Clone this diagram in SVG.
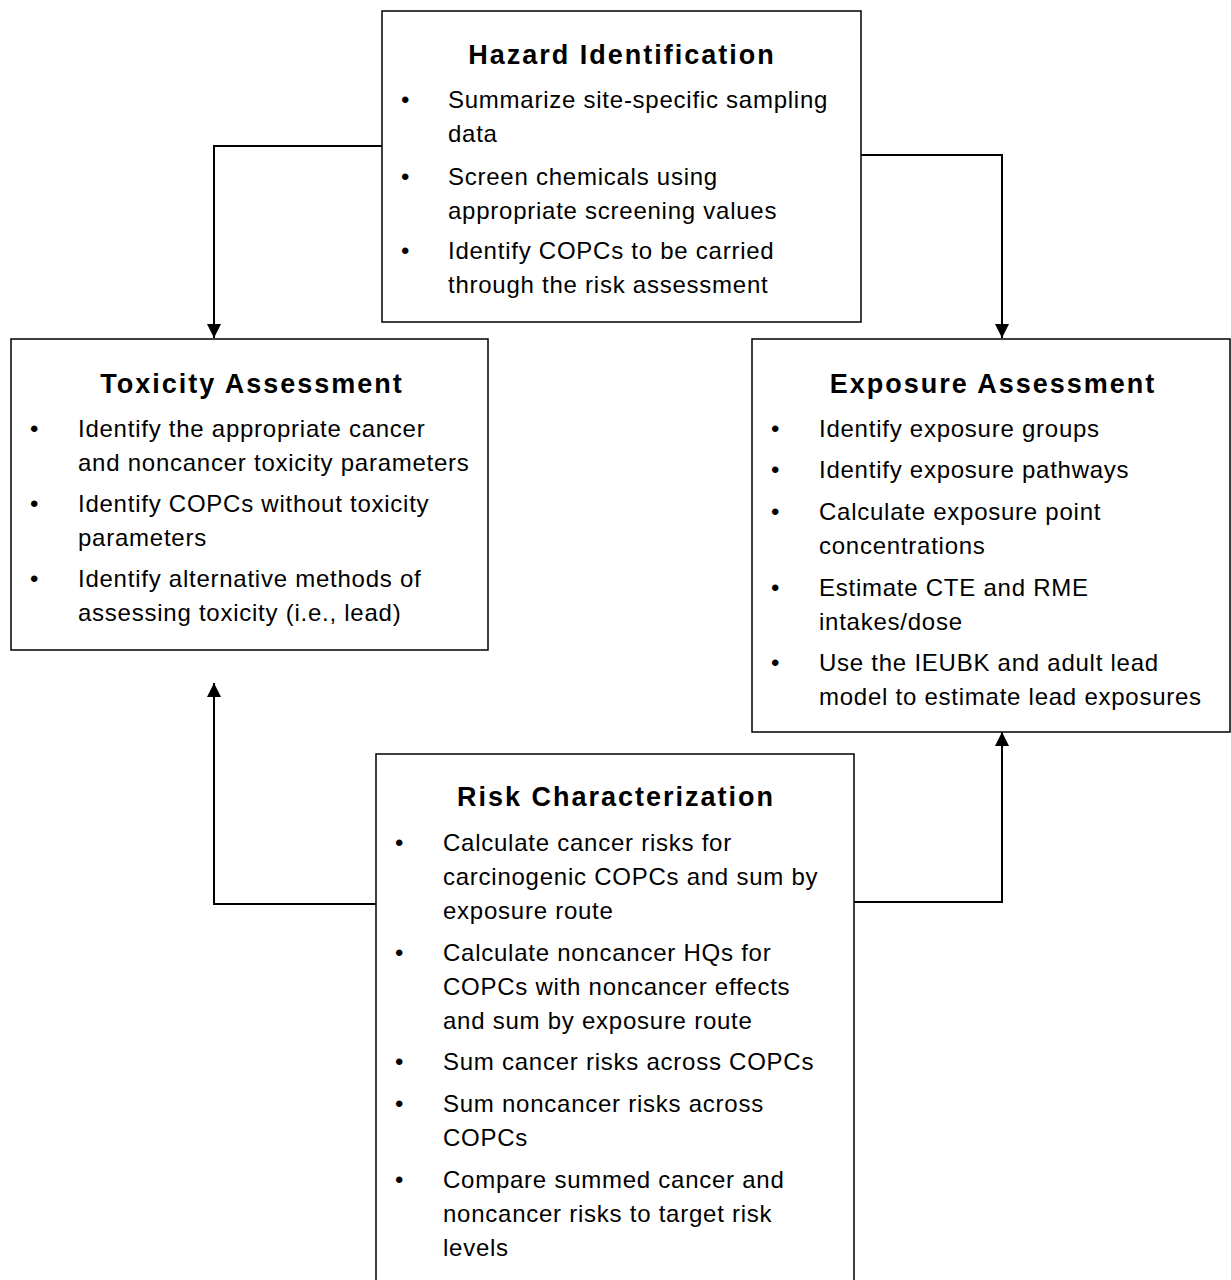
<svg xmlns="http://www.w3.org/2000/svg" width="1231" height="1280" viewBox="0 0 1231 1280">
<style>
.box{fill:#fff;stroke:#000;stroke-width:1.5}
.t{font-family:"Liberation Sans",Arial,sans-serif;font-size:27px;font-weight:bold;letter-spacing:2px;text-anchor:middle;fill:#000}
.b{font-family:"Liberation Sans",Arial,sans-serif;font-size:24px;letter-spacing:0.75px;fill:#000}
.c{fill:none;stroke:#000;stroke-width:2}
</style>
<defs>
<marker id="ah" viewBox="0 0 10 10" refX="10" refY="5" markerWidth="14" markerHeight="14" markerUnits="userSpaceOnUse" orient="auto">
<path d="M0,0 L10,5 L0,10 z" fill="#000"/>
</marker>
</defs>
<g id="connectors">
<polyline class="c" points="382,146 214,146 214,338" marker-end="url(#ah)"/>
<polyline class="c" points="861,155 1002,155 1002,338" marker-end="url(#ah)"/>
<polyline class="c" points="376,904 214,904 214,683" marker-end="url(#ah)"/>
<polyline class="c" points="854,902 1002,902 1002,732" marker-end="url(#ah)"/>
</g>
<g id="hazard">
<rect class="box" x="382" y="11" width="479" height="311"/>
<text class="t" x="622" y="64">Hazard Identification</text>
<text class="b" x="401" y="108">•</text><text class="b" x="448" y="108">Summarize site-specific sampling</text>
<text class="b" x="448" y="142">data</text>
<text class="b" x="401" y="185">•</text><text class="b" x="448" y="185">Screen chemicals using</text>
<text class="b" x="448" y="219">appropriate screening values</text>
<text class="b" x="401" y="259">•</text><text class="b" x="448" y="259">Identify COPCs to be carried</text>
<text class="b" x="448" y="293">through the risk assessment</text>
</g>
<g id="toxicity">
<rect class="box" x="11" y="339" width="477" height="311"/>
<text class="t" x="252" y="393">Toxicity Assessment</text>
<text class="b" x="30" y="437">•</text><text class="b" x="78" y="437">Identify the appropriate cancer</text>
<text class="b" x="78" y="471">and noncancer toxicity parameters</text>
<text class="b" x="30" y="512">•</text><text class="b" x="78" y="512">Identify COPCs without toxicity</text>
<text class="b" x="78" y="546">parameters</text>
<text class="b" x="30" y="587">•</text><text class="b" x="78" y="587">Identify alternative methods of</text>
<text class="b" x="78" y="621">assessing toxicity (i.e., lead)</text>
</g>
<g id="exposure">
<rect class="box" x="752" y="339" width="478" height="393"/>
<text class="t" x="993" y="393">Exposure Assessment</text>
<text class="b" x="771" y="437">•</text><text class="b" x="819" y="437">Identify exposure  groups</text>
<text class="b" x="771" y="478">•</text><text class="b" x="819" y="478">Identify exposure pathways</text>
<text class="b" x="771" y="520">•</text><text class="b" x="819" y="520">Calculate exposure point</text>
<text class="b" x="819" y="554">concentrations</text>
<text class="b" x="771" y="596">•</text><text class="b" x="819" y="596">Estimate CTE and RME</text>
<text class="b" x="819" y="630">intakes/dose</text>
<text class="b" x="771" y="671">•</text><text class="b" x="819" y="671">Use the IEUBK and adult lead</text>
<text class="b" x="819" y="705">model to estimate lead exposures</text>
</g>
<g id="risk">
<rect class="box" x="376" y="754" width="478" height="540"/>
<text class="t" x="616" y="806">Risk Characterization</text>
<text class="b" x="395" y="851">•</text><text class="b" x="443" y="851">Calculate cancer risks for</text>
<text class="b" x="443" y="885">carcinogenic COPCs and sum by</text>
<text class="b" x="443" y="919">exposure route</text>
<text class="b" x="395" y="961">•</text><text class="b" x="443" y="961">Calculate noncancer HQs for</text>
<text class="b" x="443" y="995">COPCs with noncancer effects</text>
<text class="b" x="443" y="1029">and sum by exposure route</text>
<text class="b" x="395" y="1070">•</text><text class="b" x="443" y="1070">Sum cancer risks across COPCs</text>
<text class="b" x="395" y="1112">•</text><text class="b" x="443" y="1112">Sum noncancer risks across</text>
<text class="b" x="443" y="1146">COPCs</text>
<text class="b" x="395" y="1188">•</text><text class="b" x="443" y="1188">Compare summed cancer and</text>
<text class="b" x="443" y="1222">noncancer risks to target risk</text>
<text class="b" x="443" y="1256">levels</text>
</g>
</svg>
